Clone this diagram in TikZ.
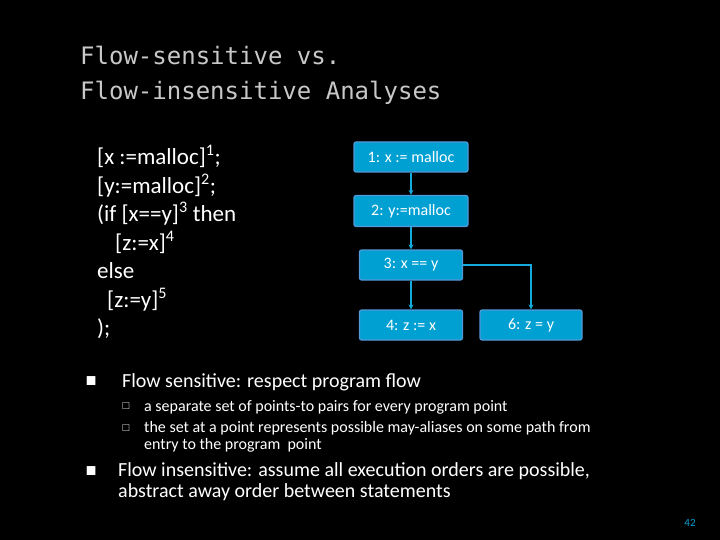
\documentclass[tikz,border=0pt]{standalone}
\usepackage{fontspec}
\usepackage{amssymb}
\usetikzlibrary{arrows.meta}
\setmainfont{Carlito}
\setmonofont{DejaVu Sans Mono}
\begin{document}
\begin{tikzpicture}[x=1pt,y=-1pt,
 box/.style={draw=cyan!60!blue!70!white,line width=1.2pt,fill={rgb,255:red,0;green,160;blue,210},rounded corners=2pt,text=white,font=\fontsize{16}{18}\selectfont,inner sep=0pt},
 arr/.style={draw={rgb,255:red,20;green,170;blue,220},line width=1.3pt,-{Stealth[length=5pt,width=5pt]}},
 txt/.style={text=white,anchor=north west,inner sep=0pt,align=left}]
\fill[black] (0,0) rectangle (720,540);
\useasboundingbox (0,0) rectangle (720,540);
\node[txt,text={rgb,255:red,200;green,200;blue,200},font=\fontsize{24}{35}\ttfamily] (title) at (80,46) {Flow-sensitive vs.\\Flow-insensitive Analyses};
\node[txt,font=\fontsize{23}{28.5}\selectfont] (code) at (97,145) {{[}x :=malloc]\textsuperscript{1};\\\relax{[}y:=malloc]\textsuperscript{2};\\(if {[}x==y]\textsuperscript{3} then\\\hspace*{18pt}{[}z:=x]\textsuperscript{4}\\else\\\hspace*{10pt}{[}z:=y]\textsuperscript{5}\\);};
\node[box,minimum width=114,minimum height=30] (n1) at (411,157) {1: x := malloc};
\node[box,minimum width=114,minimum height=31] (n2) at (411,211) {2: y:=malloc};
\node[box,minimum width=103,minimum height=30] (n3) at (411,265) {3: x == y};
\node[box,minimum width=103,minimum height=30] (n4) at (411,325) {4: z := x};
\node[box,minimum width=102,minimum height=30] (n6) at (531,325) {6: z = y};
\draw[arr] (n1) -- (n2);
\draw[arr] (n2) -- (n3);
\draw[arr] (n3) -- (n4);
\draw[arr] (n3.east) -| (n6.north);
\node[txt,font=\fontsize{13}{16}\selectfont] (b1m) at (86,377) {$\blacksquare$};
\node[txt,font=\fontsize{20}{20}\selectfont] (b1) at (122,373) {Flow sensitive: respect program flow};
\node[txt,font=\fontsize{10}{12}\selectfont] (s1m) at (122,403) {$\square$};
\node[txt,font=\fontsize{16}{17}\selectfont] (s1) at (144,400) {a separate set of points-to pairs for every program point};
\node[txt,font=\fontsize{10}{12}\selectfont] (s2m) at (122,425) {$\square$};
\node[txt,font=\fontsize{16}{17}\selectfont] (s2) at (144,421) {the set at a point represents possible may-aliases on some path from\\entry to the program\ \ point};
\node[txt,font=\fontsize{13}{16}\selectfont] (b2m) at (86,467) {$\blacksquare$};
\node[txt,font=\fontsize{20}{21}\selectfont] (b2) at (118,462) {Flow insensitive: assume all execution orders are possible,\\abstract away order between statements};
\node[text={rgb,255:red,0;green,160;blue,210},font=\fontsize{11}{12}\selectfont,inner sep=0pt] (pg) at (690,523) {42};
\end{tikzpicture}
\end{document}
